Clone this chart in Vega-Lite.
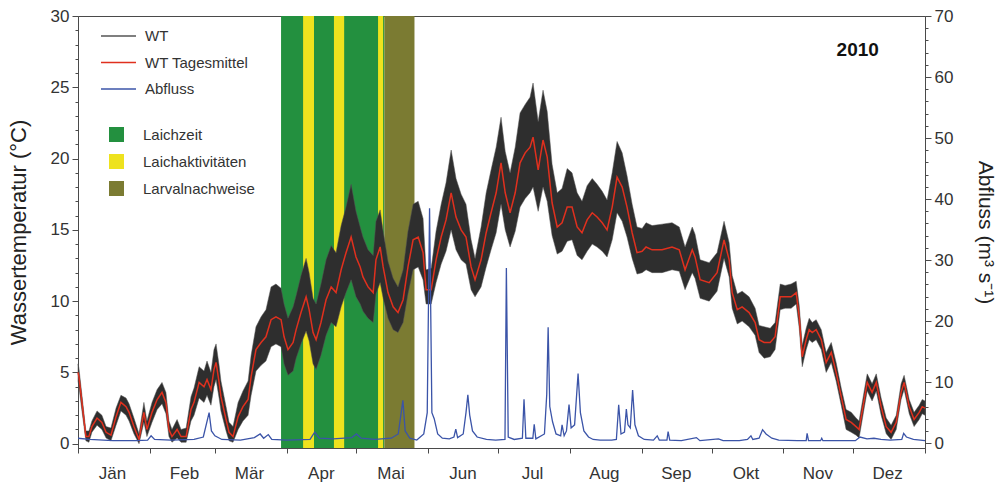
{
  "$schema": "https://vega.github.io/schema/vega-lite/v6.json",
  "width": 847,
  "height": 432,
  "autosize": {"type": "none"},
  "padding": {"left": 78, "top": 16, "right": 78, "bottom": 38},
  "config": {
    "font": "Liberation Sans",
    "view": {"stroke": "#4a4a4a", "strokeWidth": 1},
    "axis": {"domainColor": "#4a4a4a", "tickColor": "#4a4a4a", "labelColor": "#333333", "titleColor": "#222222", "labelFont": "Liberation Sans", "titleFont": "Liberation Sans", "labelFontSize": 16, "grid": false, "titleFontWeight": "normal"},
    "legend": {"labelFont": "Liberation Sans", "labelColor": "#333333", "labelFontSize": 15, "padding": 0}
  },
  "datasets": {
    "wt": [
      {"d":0,"m":5.0,"lo":4.4,"hi":5.6},{"d":0.4,"m":4.7,"lo":4.0,"hi":5.3},{"d":1.7,"m":2.9,"lo":2.3,"hi":3.4},{"d":3.4,"m":0.5,"lo":0.2,"hi":0.9},{"d":4.7,"m":0.5,"lo":0.1,"hi":0.9},{"d":6,"m":1.2,"lo":0.8,"hi":1.6},{"d":8.2,"m":1.8,"lo":1.3,"hi":2.3},{"d":10.3,"m":1.5,"lo":1.0,"hi":2.0},{"d":12.1,"m":0.8,"lo":0.4,"hi":1.2},{"d":14.2,"m":0.6,"lo":0.2,"hi":1.1},{"d":16.4,"m":1.9,"lo":1.3,"hi":2.5},{"d":18.5,"m":2.9,"lo":2.3,"hi":3.4},{"d":20.7,"m":2.6,"lo":2.0,"hi":3.2},{"d":22,"m":2.2,"lo":1.6,"hi":2.8},{"d":24.1,"m":1.2,"lo":0.7,"hi":1.8},{"d":26.3,"m":0.3,"lo":0.0,"hi":0.7},{"d":28.4,"m":2.2,"lo":1.5,"hi":2.9},{"d":29.7,"m":1.0,"lo":0.5,"hi":1.6},
      {"d":31.9,"m":2.2,"lo":1.5,"hi":2.9},{"d":34.1,"m":3.1,"lo":2.4,"hi":3.8},{"d":36.2,"m":3.6,"lo":2.8,"hi":4.3},{"d":37.9,"m":2.9,"lo":2.1,"hi":3.6},{"d":39.2,"m":1.0,"lo":0.5,"hi":1.6},{"d":40.5,"m":0.5,"lo":0.1,"hi":1.0},{"d":42.7,"m":1.0,"lo":0.4,"hi":1.7},{"d":44.4,"m":0.5,"lo":0.1,"hi":1.0},{"d":46.6,"m":0.5,"lo":0.1,"hi":1.1},{"d":48.7,"m":2.4,"lo":1.6,"hi":3.3},{"d":50,"m":2.9,"lo":2.0,"hi":3.9},{"d":52.2,"m":4.3,"lo":3.2,"hi":5.4},{"d":54.3,"m":4.0,"lo":2.9,"hi":5.1},{"d":55.6,"m":4.5,"lo":3.4,"hi":5.8},{"d":57.3,"m":3.8,"lo":2.7,"hi":5.0},{"d":58.6,"m":5.2,"lo":4.0,"hi":6.6},{"d":59.5,"m":5.7,"lo":4.5,"hi":7.0},{"d":60.8,"m":4.3,"lo":3.2,"hi":5.5},
      {"d":61.6,"m":3.3,"lo":2.3,"hi":4.4},{"d":63.8,"m":1.7,"lo":0.9,"hi":2.6},{"d":65.1,"m":0.8,"lo":0.2,"hi":1.5},{"d":66.8,"m":0.5,"lo":0.1,"hi":1.2},{"d":69,"m":1.9,"lo":1.0,"hi":2.9},{"d":71.1,"m":2.6,"lo":1.6,"hi":3.7},{"d":73.3,"m":3.1,"lo":2.0,"hi":4.4},{"d":74.6,"m":4.7,"lo":3.4,"hi":6.2},{"d":76.7,"m":6.6,"lo":5.1,"hi":8.2},{"d":78.9,"m":7.1,"lo":5.5,"hi":8.9},{"d":81,"m":7.5,"lo":5.8,"hi":9.4},{"d":83.2,"m":8.7,"lo":6.8,"hi":11.0},{"d":85.3,"m":8.9,"lo":7.0,"hi":11.2},{"d":87.5,"m":8.7,"lo":6.8,"hi":10.9},{"d":88.8,"m":7.5,"lo":5.6,"hi":9.8},{"d":90.5,"m":6.6,"lo":4.8,"hi":8.8},
      {"d":92.7,"m":7.1,"lo":5.1,"hi":9.6},{"d":94,"m":8.0,"lo":6.0,"hi":10.4},{"d":96.1,"m":9.2,"lo":7.0,"hi":11.8},{"d":98.3,"m":10.3,"lo":7.9,"hi":13.0},{"d":99.6,"m":9.4,"lo":7.2,"hi":12.0},{"d":101.3,"m":7.8,"lo":5.6,"hi":10.2},{"d":102.6,"m":7.3,"lo":5.2,"hi":9.8},{"d":104.7,"m":8.5,"lo":6.2,"hi":11.2},{"d":106.9,"m":10.1,"lo":7.6,"hi":12.9},{"d":109.1,"m":11.0,"lo":8.5,"hi":13.9},{"d":111.2,"m":10.6,"lo":8.2,"hi":13.4},{"d":113.4,"m":12.2,"lo":9.6,"hi":15.3},{"d":115.5,"m":13.4,"lo":10.6,"hi":16.6},{"d":117.7,"m":14.5,"lo":11.5,"hi":18.2},{"d":119.8,"m":13.1,"lo":10.3,"hi":16.3},
      {"d":121.6,"m":12.4,"lo":9.8,"hi":15.2},{"d":122.8,"m":11.7,"lo":9.3,"hi":14.5},{"d":125,"m":11.0,"lo":8.8,"hi":13.6},{"d":127.2,"m":10.6,"lo":8.5,"hi":13.2},{"d":128.4,"m":12.9,"lo":10.5,"hi":15.6},{"d":130.2,"m":13.8,"lo":11.3,"hi":16.4},{"d":131.5,"m":12.4,"lo":10.2,"hi":14.9},{"d":133.6,"m":10.6,"lo":8.8,"hi":12.8},{"d":135.8,"m":9.6,"lo":8.0,"hi":11.6},{"d":137.9,"m":9.2,"lo":7.8,"hi":11.0},{"d":140.1,"m":10.1,"lo":8.5,"hi":12.2},{"d":142.2,"m":12.4,"lo":10.5,"hi":14.9},{"d":144.4,"m":14.3,"lo":12.2,"hi":16.8},{"d":146.6,"m":14.5,"lo":12.4,"hi":17.0},{"d":148.7,"m":13.4,"lo":11.5,"hi":15.8},
      {"d":150,"m":10.8,"lo":9.8,"hi":12.2},{"d":152.2,"m":10.8,"lo":9.8,"hi":12.3},{"d":154.3,"m":12.9,"lo":11.3,"hi":14.9},{"d":156.5,"m":14.5,"lo":12.6,"hi":16.8},{"d":158.6,"m":15.7,"lo":13.5,"hi":18.3},{"d":160.8,"m":17.6,"lo":15.0,"hi":20.6},{"d":162.9,"m":15.9,"lo":13.6,"hi":18.6},{"d":165.1,"m":15.0,"lo":12.9,"hi":17.5},{"d":167.2,"m":14.5,"lo":12.6,"hi":16.8},{"d":169.4,"m":12.4,"lo":10.8,"hi":14.3},{"d":171.1,"m":11.5,"lo":10.3,"hi":13.0},{"d":173.7,"m":12.9,"lo":11.0,"hi":15.2},{"d":175.9,"m":14.8,"lo":12.4,"hi":17.6},{"d":178,"m":16.2,"lo":13.6,"hi":19.2},{"d":180.2,"m":17.6,"lo":14.8,"hi":20.8},
      {"d":182.3,"m":19.7,"lo":16.8,"hi":22.9},{"d":184.1,"m":17.6,"lo":15.0,"hi":20.5},{"d":186.2,"m":16.2,"lo":13.8,"hi":19.0},{"d":188.4,"m":17.6,"lo":14.9,"hi":20.8},{"d":190.5,"m":19.7,"lo":16.6,"hi":23.2},{"d":192.7,"m":20.4,"lo":17.2,"hi":23.8},{"d":194.8,"m":20.8,"lo":17.6,"hi":24.3},{"d":196.1,"m":21.5,"lo":18.0,"hi":25.3},{"d":198.3,"m":19.2,"lo":16.3,"hi":22.6},{"d":200.4,"m":21.3,"lo":18.0,"hi":24.8},{"d":202.2,"m":20.1,"lo":17.0,"hi":23.3},{"d":204.3,"m":16.9,"lo":14.6,"hi":19.6},{"d":206.5,"m":15.2,"lo":13.3,"hi":17.6},{"d":208.6,"m":15.5,"lo":13.5,"hi":17.9},{"d":210.8,"m":16.6,"lo":14.2,"hi":19.3},
      {"d":212.9,"m":16.6,"lo":14.3,"hi":19.0},{"d":215.1,"m":15.2,"lo":13.2,"hi":17.6},{"d":217.2,"m":14.8,"lo":12.9,"hi":17.0},{"d":219.4,"m":15.7,"lo":13.5,"hi":18.1},{"d":221.6,"m":16.2,"lo":14.0,"hi":18.6},{"d":223.7,"m":15.9,"lo":13.8,"hi":18.2},{"d":225.9,"m":15.5,"lo":13.5,"hi":17.7},{"d":228,"m":15.0,"lo":13.1,"hi":17.1},{"d":230.2,"m":16.6,"lo":14.3,"hi":19.0},{"d":232.3,"m":18.7,"lo":16.2,"hi":21.2},{"d":234.5,"m":18.0,"lo":15.6,"hi":20.4},{"d":236.6,"m":16.6,"lo":14.5,"hi":18.8},{"d":238.8,"m":14.8,"lo":13.0,"hi":16.8},{"d":240.9,"m":13.4,"lo":11.9,"hi":15.2},
      {"d":243.1,"m":13.5,"lo":12.0,"hi":15.1},{"d":244.8,"m":13.8,"lo":12.2,"hi":15.5},{"d":247.4,"m":13.6,"lo":12.0,"hi":15.3},{"d":251.7,"m":13.6,"lo":12.0,"hi":15.4},{"d":256,"m":13.8,"lo":12.2,"hi":15.5},{"d":259.1,"m":13.6,"lo":12.1,"hi":15.2},{"d":261.6,"m":12.2,"lo":10.8,"hi":13.8},{"d":264.7,"m":13.6,"lo":12.0,"hi":15.2},{"d":265.9,"m":13.1,"lo":11.6,"hi":14.7},{"d":268.1,"m":11.5,"lo":10.2,"hi":12.9},{"d":272,"m":11.3,"lo":10.0,"hi":12.7},
      {"d":275.4,"m":12.0,"lo":10.7,"hi":13.4},{"d":278.4,"m":14.3,"lo":13.0,"hi":15.6},{"d":280.6,"m":12.9,"lo":11.7,"hi":14.1},{"d":281.9,"m":10.6,"lo":9.5,"hi":11.8},{"d":284.1,"m":9.4,"lo":8.4,"hi":10.5},{"d":286.2,"m":9.6,"lo":8.6,"hi":10.7},{"d":289.2,"m":9.2,"lo":8.2,"hi":10.3},{"d":291.8,"m":8.5,"lo":7.6,"hi":9.5},{"d":293.5,"m":7.3,"lo":6.4,"hi":8.3},{"d":295.7,"m":7.1,"lo":6.0,"hi":8.2},{"d":298.3,"m":7.1,"lo":6.1,"hi":8.1},{"d":300.4,"m":7.5,"lo":6.6,"hi":8.5},{"d":302.6,"m":10.3,"lo":9.4,"hi":11.2},
      {"d":304.7,"m":10.3,"lo":9.5,"hi":11.1},{"d":307.3,"m":10.3,"lo":9.5,"hi":11.2},{"d":309.5,"m":10.6,"lo":9.8,"hi":11.4},{"d":310.8,"m":8.9,"lo":8.1,"hi":9.7},{"d":312.1,"m":6.1,"lo":5.4,"hi":6.9},{"d":313.8,"m":7.3,"lo":6.6,"hi":8.1},{"d":315.1,"m":8.0,"lo":7.3,"hi":8.8},{"d":316.4,"m":7.8,"lo":7.1,"hi":8.5},{"d":318.1,"m":8.0,"lo":7.3,"hi":8.7},{"d":320.3,"m":7.3,"lo":6.6,"hi":8.0},{"d":322.4,"m":5.7,"lo":5.0,"hi":6.4},{"d":324.6,"m":6.4,"lo":5.7,"hi":7.1},{"d":326.7,"m":5.0,"lo":4.4,"hi":5.7},{"d":328.9,"m":3.3,"lo":2.7,"hi":3.9},{"d":331,"m":1.7,"lo":1.0,"hi":2.4},{"d":333.2,"m":1.5,"lo":0.8,"hi":2.2},
      {"d":335.3,"m":1.2,"lo":0.6,"hi":1.8},{"d":336.6,"m":1.0,"lo":0.4,"hi":1.6},{"d":338.8,"m":3.1,"lo":2.5,"hi":3.7},{"d":340.1,"m":4.3,"lo":3.7,"hi":4.9},{"d":342.2,"m":3.6,"lo":3.0,"hi":4.2},{"d":344,"m":4.3,"lo":3.7,"hi":4.9},{"d":346.1,"m":2.6,"lo":2.0,"hi":3.2},{"d":348.3,"m":1.2,"lo":0.7,"hi":1.8},{"d":350.4,"m":0.8,"lo":0.3,"hi":1.3},{"d":352.6,"m":1.5,"lo":1.0,"hi":2.0},{"d":354.7,"m":3.6,"lo":3.1,"hi":4.2},{"d":356,"m":4.3,"lo":3.8,"hi":4.8},{"d":358.2,"m":2.6,"lo":2.1,"hi":3.1},{"d":360.3,"m":1.7,"lo":1.2,"hi":2.2},{"d":362.5,"m":2.2,"lo":1.7,"hi":2.7},{"d":363.8,"m":2.6,"lo":2.1,"hi":3.1},{"d":365,"m":2.5,"lo":2.0,"hi":3.0}
    ],
    "q": [
      {"d":0,"q":0.8},{"d":5,"q":0.6},{"d":15,"q":0.4},{"d":25,"q":0.4},{"d":30,"q":0.5},{"d":31.5,"q":1.2},{"d":33,"q":0.6},{"d":40,"q":0.5},{"d":50,"q":0.6},{"d":54,"q":1.0},{"d":56.5,"q":5.0},{"d":57.5,"q":2.0},{"d":59,"q":1.2},{"d":62,"q":0.6},{"d":70,"q":0.5},{"d":76,"q":0.9},{"d":78.5,"q":1.5},{"d":80,"q":0.8},{"d":82,"q":1.4},{"d":83.5,"q":0.6},{"d":90,"q":0.5},{"d":100,"q":0.6},{"d":102,"q":1.8},{"d":104,"q":0.8},{"d":110,"q":0.7},{"d":118,"q":0.9},{"d":120,"q":1.5},{"d":122,"q":0.8},{"d":128,"q":0.6},{"d":135,"q":0.8},{"d":138,"q":1.5},{"d":140,"q":7.0},{"d":141,"q":2.0},{"d":143,"q":0.8},{"d":146,"q":0.5},
      {"d":149,"q":1.5},{"d":150.5,"q":5.0},{"d":151.5,"q":38.5},{"d":152.5,"q":5.0},{"d":153.5,"q":4.0},{"d":155,"q":1.5},{"d":157,"q":0.8},{"d":160,"q":0.7},{"d":162,"q":1.0},{"d":162.8,"q":2.3},{"d":163.6,"q":0.9},{"d":166,"q":1.5},{"d":167.2,"q":5.0},{"d":168,"q":7.9},{"d":168.8,"q":4.6},{"d":170,"q":2.0},{"d":172,"q":1.0},{"d":176,"q":0.6},{"d":180,"q":0.5},{"d":184,"q":0.6},{"d":184.6,"q":28.7},{"d":185.4,"q":1.0},{"d":188,"q":0.6},{"d":191.5,"q":0.8},{"d":192.2,"q":7.2},{"d":193,"q":0.8},{"d":196,"q":0.8},{"d":196.6,"q":3.1},{"d":197.3,"q":0.7},
      {"d":201,"q":1.5},{"d":202,"q":8.0},{"d":202.6,"q":19.0},{"d":203.3,"q":6.0},{"d":204.5,"q":3.5},{"d":206,"q":1.5},{"d":208,"q":1.2},{"d":208.6,"q":3.0},{"d":209.5,"q":1.2},{"d":210.5,"q":2.0},{"d":211.6,"q":6.3},{"d":212.5,"q":2.5},{"d":214,"q":3.0},{"d":215.5,"q":11.4},{"d":216.5,"q":5.0},{"d":218,"q":2.0},{"d":220,"q":1.0},{"d":222,"q":0.6},{"d":225,"q":0.5},{"d":230,"q":0.5},{"d":232,"q":0.6},{"d":233,"q":6.3},{"d":234,"q":1.5},{"d":235.5,"q":1.8},{"d":236.3,"q":5.6},{"d":237,"q":3.0},{"d":238,"q":2.5},{"d":239,"q":8.7},{"d":240,"q":3.0},{"d":241.5,"q":1.2},{"d":244,"q":0.6},
      {"d":248,"q":0.5},{"d":249.6,"q":1.2},{"d":250.5,"q":0.5},{"d":253.8,"q":0.5},{"d":254.3,"q":1.9},{"d":255,"q":0.5},{"d":260,"q":0.4},{"d":266.5,"q":0.9},{"d":268,"q":0.4},{"d":276,"q":0.7},{"d":278,"q":0.4},{"d":285,"q":0.4},{"d":288.5,"q":0.6},{"d":290,"q":1.2},{"d":290.8,"q":0.6},{"d":293.5,"q":0.8},{"d":295,"q":2.2},{"d":296.5,"q":1.5},{"d":299,"q":0.8},{"d":302,"q":0.5},{"d":310,"q":0.4},{"d":313.8,"q":0.4},{"d":314.2,"q":1.6},{"d":314.8,"q":0.4},{"d":320,"q":0.4},{"d":320.5,"q":0.8},{"d":321,"q":0.4},{"d":330,"q":0.4},{"d":335,"q":0.4},{"d":337,"q":1.0},{"d":340,"q":0.7},{"d":343,"q":0.8},{"d":346,"q":0.6},{"d":350,"q":0.5},{"d":355,"q":0.6},{"d":355.8,"q":1.6},{"d":357,"q":1.0},{"d":360,"q":0.6},{"d":365,"q":0.4}
    ],
    "bands": [
      {"s":"Laichzeit","a":87.5,"b":132},
      {"s":"Laichaktivitäten","a":97,"b":101.7},
      {"s":"Laichaktivitäten","a":110.3,"b":114.7},
      {"s":"Laichaktivitäten","a":129.3,"b":131.5},
      {"s":"Larvalnachweise","a":132,"b":145}
    ],
    "lbl": [{"d":336,"t":27.6,"label":"2010"}]
  },
  "layer": [
    {
      "data": {"name": "bands"},
      "mark": {"type": "rect", "strokeWidth": 0},
      "encoding": {
        "x": {"field": "a", "type": "quantitative", "scale": {"domain": [0, 365], "nice": false, "zero": false},
          "axis": {"title": null, "values": [0,31,59,90,120,151,181,212,243,273,304,334,365], "labelExpr": "datum.value < 365 ? ['Jän','Feb','Mär','Apr','Mai','Jun','Jul','Aug','Sep','Okt','Nov','Dez'][indexof([0,31,59,90,120,151,181,212,243,273,304,334], datum.value)] : ''", "labelOffset": 34, "labelOverlap": false, "labelFlush": false, "labelBound": false, "tickSize": 5, "labelPadding": 12, "labelFontSize": 17}},
        "x2": {"field": "b"},
        "y": {"value": 0},
        "y2": {"value": "height"},
        "fill": {"field": "s", "type": "nominal",
          "scale": {"domain": ["Laichzeit", "Laichaktivitäten", "Larvalnachweise"], "range": ["#23903f", "#eee21e", "#7b7b32"]},
          "legend": {"title": null, "orient": "none", "legendX": 31, "legendY": 111, "symbolType": "square", "symbolSize": 225, "symbolStrokeWidth": 0, "labelOffset": 19, "rowPadding": 11}}
      }
    },
    {
      "layer": [
        {
          "data": {"name": "wt"},
          "mark": {"type": "area", "fill": "#2e2e2e", "strokeWidth": 0.5},
          "encoding": {
            "x": {"field": "d", "type": "quantitative",
              "axis": {"title": null, "values": [0,31,59,90,120,151,181,212,243,273,304,334,365], "labelExpr": "datum.value < 365 ? ['Jän','Feb','Mär','Apr','Mai','Jun','Jul','Aug','Sep','Okt','Nov','Dez'][indexof([0,31,59,90,120,151,181,212,243,273,304,334], datum.value)] : ''", "labelOffset": 34, "labelOverlap": false, "labelFlush": false, "labelBound": false, "tickSize": 5, "labelPadding": 12, "labelFontSize": 17}},
            "y": {"field": "lo", "type": "quantitative", "scale": {"domain": [-0.3, 30], "nice": false, "zero": false},
              "axis": {"orient": "left", "title": "Wassertemperatur (°C)", "titleFontSize": 22, "titlePadding": 20,
                "values": [0,1,2,3,4,5,6,7,8,9,10,11,12,13,14,15,16,17,18,19,20,21,22,23,24,25,26,27,28,29,30],
                "labelExpr": "datum.value % 5 === 0 ? datum.label : ''",
                "tickSize": {"condition": {"test": "datum.value % 5 === 0", "value": 6}, "value": 3},
                "labelPadding": 3, "labelFontSize": 17}},
            "y2": {"field": "hi"},
            "stroke": {"datum": "WT", "type": "nominal",
              "scale": {"domain": ["WT", "WT Tagesmittel", "Abfluss"], "range": ["#555555", "#e0301e", "#3b54a8"]},
              "legend": {"title": null, "orient": "none", "legendX": 31, "legendY": 10.5, "symbolType": "M-2,0H2", "symbolSize": 306, "symbolStrokeWidth": 1.5, "labelOffset": 17, "rowPadding": 8.5}}
          }
        },
        {
          "data": {"name": "wt"},
          "mark": {"type": "line", "strokeWidth": 1.5},
          "encoding": {
            "x": {"field": "d", "type": "quantitative",
              "axis": {"title": null, "values": [0,31,59,90,120,151,181,212,243,273,304,334,365], "labelExpr": "datum.value < 365 ? ['Jän','Feb','Mär','Apr','Mai','Jun','Jul','Aug','Sep','Okt','Nov','Dez'][indexof([0,31,59,90,120,151,181,212,243,273,304,334], datum.value)] : ''", "labelOffset": 34, "labelOverlap": false, "labelFlush": false, "labelBound": false, "tickSize": 5, "labelPadding": 12, "labelFontSize": 17}},
            "y": {"field": "m", "type": "quantitative",
              "axis": {"orient": "left", "title": "Wassertemperatur (°C)", "titleFontSize": 22, "titlePadding": 20,
                "values": [0,1,2,3,4,5,6,7,8,9,10,11,12,13,14,15,16,17,18,19,20,21,22,23,24,25,26,27,28,29,30],
                "labelExpr": "datum.value % 5 === 0 ? datum.label : ''",
                "tickSize": {"condition": {"test": "datum.value % 5 === 0", "value": 6}, "value": 3},
                "labelPadding": 3, "labelFontSize": 17}},
            "stroke": {"datum": "WT Tagesmittel", "type": "nominal"}
          }
        },
        {
          "data": {"name": "lbl"},
          "mark": {"type": "text", "fontWeight": "bold", "fontSize": 19, "font": "Liberation Sans", "color": "#111111"},
          "encoding": {
            "x": {"field": "d", "type": "quantitative",
              "axis": {"title": null, "values": [0,31,59,90,120,151,181,212,243,273,304,334,365], "labelExpr": "datum.value < 365 ? ['Jän','Feb','Mär','Apr','Mai','Jun','Jul','Aug','Sep','Okt','Nov','Dez'][indexof([0,31,59,90,120,151,181,212,243,273,304,334], datum.value)] : ''", "labelOffset": 34, "labelOverlap": false, "labelFlush": false, "labelBound": false, "tickSize": 5, "labelPadding": 12, "labelFontSize": 17}},
            "y": {"field": "t", "type": "quantitative",
              "axis": {"orient": "left", "title": "Wassertemperatur (°C)", "titleFontSize": 22, "titlePadding": 20,
                "values": [0,1,2,3,4,5,6,7,8,9,10,11,12,13,14,15,16,17,18,19,20,21,22,23,24,25,26,27,28,29,30],
                "labelExpr": "datum.value % 5 === 0 ? datum.label : ''",
                "tickSize": {"condition": {"test": "datum.value % 5 === 0", "value": 6}, "value": 3},
                "labelPadding": 3, "labelFontSize": 17}},
            "text": {"field": "label"}
          }
        }
      ]
    },
    {
      "data": {"name": "q"},
      "mark": {"type": "line", "strokeWidth": 1.3},
      "encoding": {
        "x": {"field": "d", "type": "quantitative",
          "axis": {"title": null, "values": [0,31,59,90,120,151,181,212,243,273,304,334,365], "labelExpr": "datum.value < 365 ? ['Jän','Feb','Mär','Apr','Mai','Jun','Jul','Aug','Sep','Okt','Nov','Dez'][indexof([0,31,59,90,120,151,181,212,243,273,304,334], datum.value)] : ''", "labelOffset": 34, "labelOverlap": false, "labelFlush": false, "labelBound": false, "tickSize": 5, "labelPadding": 12, "labelFontSize": 17}},
        "y": {"field": "q", "type": "quantitative", "scale": {"domain": [-0.8, 70], "nice": false, "zero": false},
          "axis": {"orient": "right", "title": "Abfluss (m³ s⁻¹)", "titleFontSize": 21, "titlePadding": 22,
            "values": [0,2,4,6,8,10,12,14,16,18,20,22,24,26,28,30,32,34,36,38,40,42,44,46,48,50,52,54,56,58,60,62,64,66,68,70],
            "labelExpr": "datum.value % 10 === 0 ? datum.label : ''",
            "tickSize": {"condition": {"test": "datum.value % 10 === 0", "value": 6}, "value": 3},
            "labelPadding": 3, "labelFontSize": 17}},
        "stroke": {"datum": "Abfluss", "type": "nominal"}
      }
    }
  ],
  "resolve": {"scale": {"y": "independent"}}
}
